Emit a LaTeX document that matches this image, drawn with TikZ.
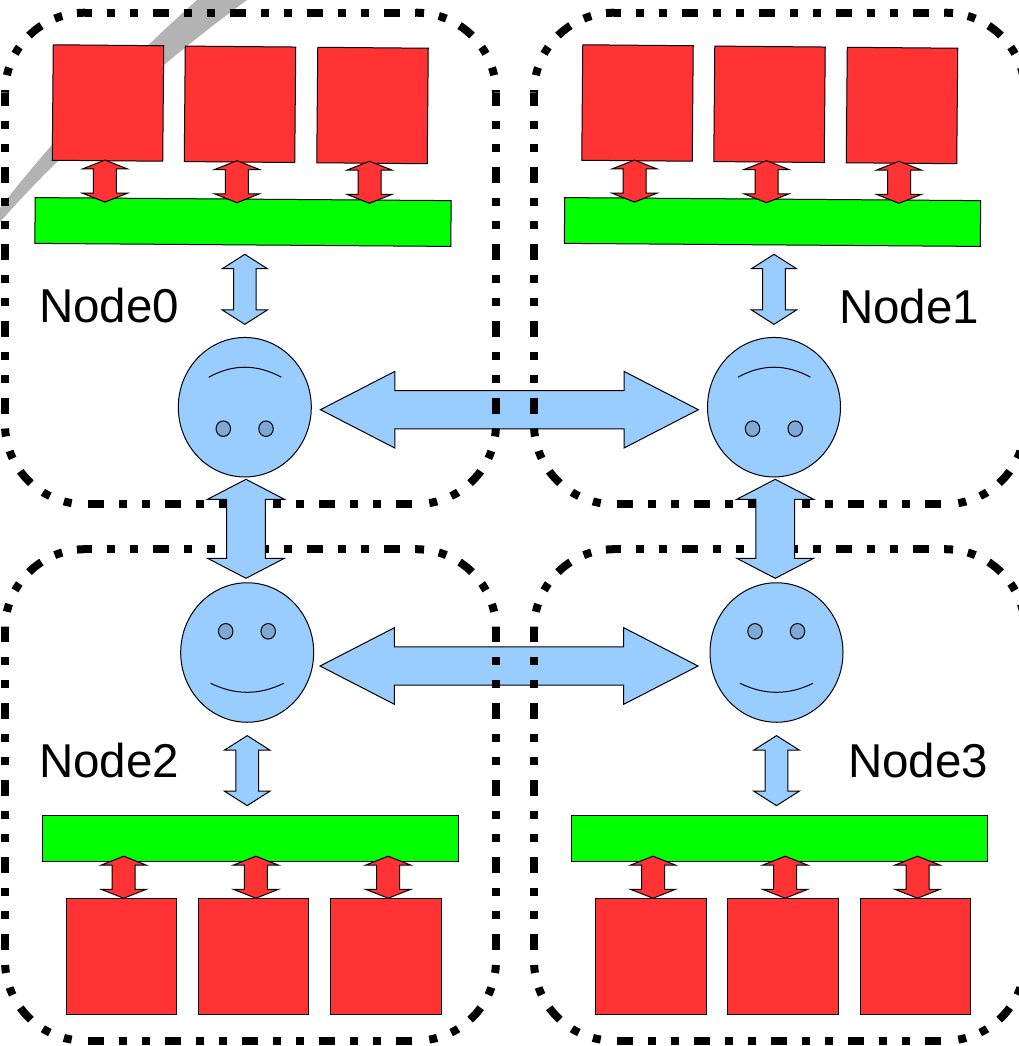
\documentclass[tikz,border=0pt]{standalone}
\usepackage{fontspec}
\setmainfont{Liberation Sans}
\usetikzlibrary{shapes.geometric, shapes.arrows}
\definecolor{memred}{HTML}{FF3333}
\definecolor{busgreen}{HTML}{00FF00}
\definecolor{cpublue}{HTML}{99CCFF}
\definecolor{eyeblue}{HTML}{7FA8D4}
\definecolor{bandgray}{HTML}{B3B3B3}
\tikzstyle{nodeframe} = [line width=8pt, dash pattern=on 16pt off 15pt on 8pt off 15pt on 8pt off 15pt]
\tikzstyle{mem} = [rectangle, minimum width=110.5pt, minimum height=115.5pt, outer sep=0pt, line width=1pt, draw=black, fill=memred]
\tikzstyle{bus} = [rectangle, minimum width=416pt, minimum height=45.8pt, outer sep=0pt, line width=1pt, draw=black, fill=busgreen]
\tikzstyle{cpu} = [ellipse, minimum width=133pt, minimum height=139.5pt, inner sep=0pt, outer sep=0pt, line width=1pt, draw=black, fill=cpublue]
\tikzstyle{eye} = [ellipse, minimum width=14.5pt, minimum height=15.5pt, inner sep=0pt, outer sep=0pt, line width=1pt, draw=black, fill=eyeblue]
\tikzstyle{mouth} = [line width=1pt]
\tikzstyle{hlink} = [double arrow, minimum height=378pt, minimum width=75.6pt, inner xsep=0pt, inner ysep=18.6pt, double arrow head extend=19.2pt, double arrow head indent=0pt, double arrow tip angle=54.5, outer sep=0pt, line width=1pt, draw=black, fill=cpublue]
\tikzstyle{vlink} = [double arrow, rotate=90, minimum height=99pt, minimum width=76pt, inner xsep=0pt, inner ysep=18.8pt, double arrow head extend=19.2pt, double arrow head indent=0pt, double arrow tip angle=125, outer sep=0pt, line width=1pt, draw=black, fill=cpublue]
\tikzstyle{iolink} = [double arrow, rotate=90, minimum height=70pt, minimum width=44.3pt, inner xsep=0pt, inner ysep=10.8pt, double arrow head extend=11.3pt, double arrow head indent=0pt, double arrow tip angle=115, outer sep=0pt, line width=1pt, draw=black, fill=cpublue]
\tikzstyle{memlink} = [double arrow, rotate=90, minimum height=42pt, minimum width=44pt, inner xsep=0pt, inner ysep=11pt, double arrow head extend=11pt, double arrow head indent=0pt, double arrow tip angle=137, outer sep=0pt, line width=1pt, draw=black, fill=memred]
\tikzstyle{nodelabel} = [anchor=base, inner sep=0pt, font=\fontsize{47.5pt}{47.5pt}\selectfont]

\begin{document}
\begin{tikzpicture}[x=1pt, y=-1pt]
    \useasboundingbox (0,0) rectangle (1019,1046);

    \fill[bandgray] (197,0) .. controls (130,60) and (60,130) .. (0,208) -- (0,222) .. controls (60,154) and (150,71) .. (247,0) -- cycle;

    \node at (108,103) [mem,rotate=-0.5] (mem00) {};
    \node at (240,104.3) [mem,rotate=-0.5] (mem01) {};
    \node at (372.5,105.5) [mem,rotate=-0.5] (mem02) {};
    \node at (637.5,103) [mem,rotate=-0.5] (mem10) {};
    \node at (769.5,104.3) [mem,rotate=-0.5] (mem11) {};
    \node at (902,105.5) [mem,rotate=-0.5] (mem12) {};
    \node at (121.5,956.3) [mem] (mem20) {};
    \node at (253.7,956.3) [mem] (mem21) {};
    \node at (386,956.3) [mem] (mem22) {};
    \node at (650.8,956.3) [mem] (mem30) {};
    \node at (783,956.3) [mem] (mem31) {};
    \node at (915.3,956.3) [mem] (mem32) {};

    \node at (243,222) [bus,rotate=-0.42] (bus0) {};
    \node at (772.5,222) [bus,rotate=-0.42] (bus1) {};
    \node at (250.3,838.2) [bus] (bus2) {};
    \node at (779.6,838.2) [bus] (bus3) {};

    \node at (244.8,407.2) [cpu] (cpu0) {};
    \node at (774,407.2) [cpu] (cpu1) {};
    \node at (247.2,652.5) [cpu] (cpu2) {};
    \node at (776.5,652.5) [cpu] (cpu3) {};

    \node at ([shift={(-21.5,21.5)}]cpu0.center) [eye] (eye00) {};
    \node at ([shift={(21.2,21.5)}]cpu0.center) [eye] (eye01) {};
    \node at ([shift={(-21.5,21.5)}]cpu1.center) [eye] (eye10) {};
    \node at ([shift={(21.2,21.5)}]cpu1.center) [eye] (eye11) {};
    \node at ([shift={(-21.5,-21.2)}]cpu2.center) [eye] (eye20) {};
    \node at ([shift={(21,-21.2)}]cpu2.center) [eye] (eye21) {};
    \node at ([shift={(-21.5,-21.2)}]cpu3.center) [eye] (eye30) {};
    \node at ([shift={(21,-21.2)}]cpu3.center) [eye] (eye31) {};

    \foreach \cname in {cpu0,cpu1} {
        \draw[mouth] ([shift={(-36,-30)}]\cname.center) .. controls ([shift={(-12,-43.3)}]\cname.center) and ([shift={(12,-43.3)}]\cname.center) .. ([shift={(36.5,-30)}]\cname.center);
    }
    \foreach \cname in {cpu2,cpu3} {
        \draw[mouth] ([shift={(-36.5,30.8)}]\cname.center) .. controls ([shift={(-12,42.8)}]\cname.center) and ([shift={(12,42.8)}]\cname.center) .. ([shift={(36.5,30.8)}]\cname.center);
    }

    \path (cpu0) -- node[hlink,yshift=-2.5pt] (link01) {} (cpu1);
    \path (cpu2) -- node[hlink,xshift=-2.8pt,yshift=-13.5pt] (link23) {} (cpu3);

    \foreach \bx/\by in {5/12.7,534/12.7,5/549.2,534/549.2} {
        \begin{scope}[shift={(\bx,\by)}]
            \draw[nodeframe,dash phase=9pt] (80,0) -- (411,0);
            \draw[nodeframe,dash phase=74pt] (80,491.5) -- (411,491.5);
            \draw[nodeframe,dash phase=3pt] (0,80) -- (0,411.5);
            \draw[nodeframe,dash phase=3pt] (491,80) -- (491,411.5);
            \draw[nodeframe,dash phase=13.4pt] (0,80) arc[start angle=180,end angle=90,radius=80pt];
            \draw[nodeframe,dash phase=13.4pt] (491,80) arc[start angle=0,end angle=90,radius=80pt];
            \draw[nodeframe,dash phase=26.7pt] (0,411.5) arc[start angle=180,end angle=270,radius=80pt];
            \draw[nodeframe,dash phase=26.7pt] (491,411.5) arc[start angle=0,end angle=-90,radius=80pt];
        \end{scope}
    }

    \path (cpu0) -- node[vlink,pos=0.49] (link02) {} (cpu2);
    \path (cpu1) -- node[vlink,pos=0.49] (link13) {} (cpu3);

    \path (cpu0.north) -- node[iolink,pos=0.52] (io0) {} (cpu0.north |- bus0.south);
    \path (cpu1.north) -- node[iolink,pos=0.52] (io1) {} (cpu1.north |- bus1.south);
    \path (cpu2.south) -- node[iolink,pos=0.52] (io2) {} (cpu2.south |- bus2.north);
    \path (cpu3.south) -- node[iolink,pos=0.52] (io3) {} (cpu3.south |- bus3.north);

    \path (mem00.south) -- node[xshift=-2.5pt,memlink,pos=0.53] (ml00) {} (mem00.south |- bus0.north);
    \path (mem01.south) -- node[xshift=-2.5pt,memlink,pos=0.53] (ml01) {} (mem01.south |- bus0.north);
    \path (mem02.south) -- node[xshift=-2.5pt,memlink,pos=0.53] (ml02) {} (mem02.south |- bus0.north);
    \path (mem10.south) -- node[xshift=-2.5pt,memlink,pos=0.53] (ml10) {} (mem10.south |- bus1.north);
    \path (mem11.south) -- node[xshift=-2.5pt,memlink,pos=0.53] (ml11) {} (mem11.south |- bus1.north);
    \path (mem12.south) -- node[xshift=-2.5pt,memlink,pos=0.53] (ml12) {} (mem12.south |- bus1.north);
    \path (mem20.north) -- node[xshift=2.2pt,memlink,pos=0.57] (ml20) {} (mem20.north |- bus2.south);
    \path (mem21.north) -- node[xshift=2.2pt,memlink,pos=0.57] (ml21) {} (mem21.north |- bus2.south);
    \path (mem22.north) -- node[xshift=2.2pt,memlink,pos=0.57] (ml22) {} (mem22.north |- bus2.south);
    \path (mem30.north) -- node[xshift=2.2pt,memlink,pos=0.57] (ml30) {} (mem30.north |- bus3.south);
    \path (mem31.north) -- node[xshift=2.2pt,memlink,pos=0.57] (ml31) {} (mem31.north |- bus3.south);
    \path (mem32.north) -- node[xshift=2.2pt,memlink,pos=0.57] (ml32) {} (mem32.north |- bus3.south);

    \node at (109,322) [nodelabel] (label0) {Node0};
    \node at (909,323) [nodelabel] (label1) {Node1};
    \node at (109,777) [nodelabel] (label2) {Node2};
    \node at (918,777) [nodelabel] (label3) {Node3};
\end{tikzpicture}
\end{document}
